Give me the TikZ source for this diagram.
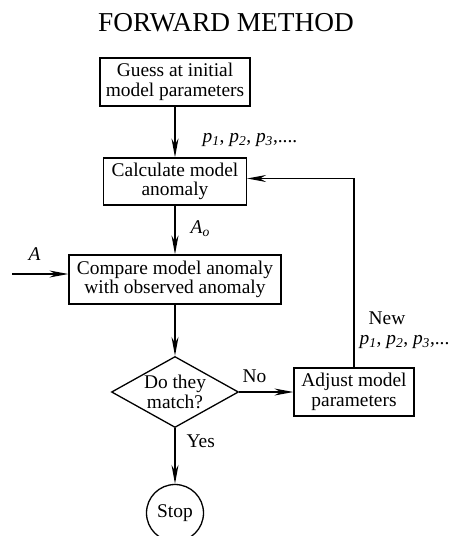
\documentclass[tikz,border=0pt]{standalone}
\usepackage{fontspec}
\setmainfont{Liberation Serif}
\usetikzlibrary{arrows.meta, shapes.geometric}
\newcommand{\pvar}[1]{\textit{p}\textsubscript{\textit{#1}}}

\begin{document}
\begin{tikzpicture}[x=1pt, y=-1pt, >={Stealth[length=19pt, width=7pt]}, line width=1.3pt,
  txt/.style={font=\fontsize{19.4}{19.5}\selectfont},
  box/.style={txt, draw, align=center, inner sep=0pt},
  lbl/.style={txt, inner sep=0pt, anchor=base west}]
  \useasboundingbox (0,0) rectangle (453,536);
  % --- title ---
  \node[font=\fontsize{27.3}{30}\selectfont] (title) at (226,23) {FORWARD METHOD};
  % --- main column ---
  \node[box, minimum width=150pt, minimum height=48pt] (guess) at (175,82) {Guess at initial\\model parameters};
  \node[box, minimum width=143pt, minimum height=47pt] (calc) at (175,181.5) {Calculate model\\anomaly};
  \node[box, minimum width=212pt, minimum height=49pt] (compare) at (175,279.5) {Compare model anomaly\\with observed anomaly};
  \node[box, diamond, aspect=1.8, minimum width=127pt, minimum height=71pt] (match) at (175,392) {Do they\\match?};
  \node[box, circle, minimum size=57pt] (stop) at (175,513) {Stop};
  \node[box, minimum width=120pt, minimum height=48pt] (adjust) at (354,392) {Adjust model\\parameters};
  \coordinate (Ain) at (12,274);
  % --- connectors ---
  \draw[->] (guess) -- (calc);
  \draw[->] (calc) -- (compare);
  \draw[->] (Ain) -- (Ain -| compare.west);
  \draw[->] (compare) -- (match);
  \draw[->] (match) -- (stop);
  \draw[->] (match) -- (adjust);
  \draw[->] (adjust.north) |- ([yshift=3pt]calc.east);
  % --- labels ---
  \node[lbl] (plab) at (202,142) {\pvar{1}, \pvar{2}, \pvar{3},....};
  \node[lbl] (Aolab) at (190,233) {\textit{A}\textsubscript{\textit{o}}};
  \node[lbl] (Alab) at (28,260) {\textit{A}};
  \node[lbl] (nolab) at (242,382) {No};
  \node[lbl] (yeslab) at (186,447) {Yes};
  \node[lbl] (newlab) at (368,324) {New};
  \node[lbl] (newplab) at (359,344) {\pvar{1}, \pvar{2}, \pvar{3},...};
\end{tikzpicture}
\end{document}
